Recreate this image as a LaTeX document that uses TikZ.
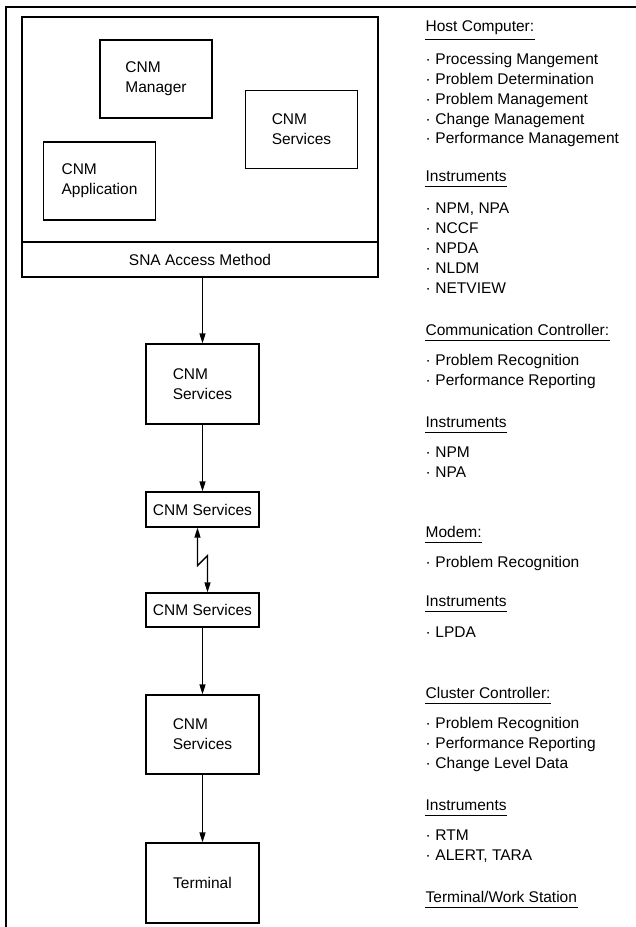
\documentclass[tikz,border=0pt]{standalone}
\usepackage{fontspec}
\setmainfont{Liberation Sans}
\usetikzlibrary{arrows.meta}

\begin{document}
\begin{tikzpicture}[x=1pt,y=-1pt,
  line width=1.3pt,
  every node/.style={font=\fontsize{15.5}{20}\selectfont},
  box/.style={draw, minimum width=113pt, align=left, inner sep=0pt},
  inbox/.style={draw, minimum width=112pt, minimum height=78pt, align=left, inner sep=0pt},
  arr/.style={-{Triangle[length=10pt,width=6pt]}},
  zap/.style={{Triangle[length=10pt,width=6pt]}-{Triangle[length=10pt,width=6pt]}},
  rtext/.style={anchor=base west, inner sep=0pt},
  heading/.style={rtext},
]
\useasboundingbox (0,0) rectangle (636,927);

% frame: top rule and left rule
\coordinate (fl) at (6,7);
\coordinate (fr) at (636,7);
\coordinate (fb) at (6,927);
\draw (fr) -- (fl) -- (fb);

% host computer
\node[draw, minimum width=356pt, minimum height=225pt, inner sep=0pt] (host) at (200,129.5) {};
\node[draw, minimum width=356pt, minimum height=35pt, inner sep=0pt] (sna) at (200,259.5) {SNA Access Method};
\node[inbox] (mgr) at (156,79) {CNM\\Manager};
\node[inbox] (hsvc) at (301.5,129.5) {CNM\\Services};
\node[inbox] (app) at (99.5,181) {CNM\\Application};

% chain of CNM services down to the terminal
\node[box, minimum height=80pt] (s1) at (202.5,384) {CNM\\Services};
\node[box, minimum height=35pt, align=center] (s2) at (202.5,509.5) {CNM Services};
\node[box, minimum height=34pt, align=center] (s3) at (202.5,610) {CNM Services};
\node[box, minimum height=79pt] (s4) at (202.5,734.5) {CNM\\Services};
\node[box, minimum height=80pt] (term) at (202.5,883) {Terminal};

\draw[arr] (sna.south -| s1.north) -- (s1.north);
\draw[arr] (s1) -- (s2);
\draw[zap] ([xshift=-5pt]s2.south) -- ++(0,38) -- ++(10,-10) -- ([xshift=5pt]s3.north);
\draw[arr] (s3) -- (s4);
\draw[arr] (s4) -- (term);

% functions and instruments
\newcommand{\heading}[3]{%
  \node[heading] (#1) at (425,#2) {#3};
  \draw[line width=0.9pt] ([yshift=-5pt]#1.south west) -- ([yshift=-5pt]#1.south east);}
\newcommand{\entry}[3]{\node[rtext] (#1) at (425,#2) {·\hspace{0.3em}#3};}

\heading{hc}{31}{Host Computer:}
\entry{hc1}{64}{Processing Mangement}
\entry{hc2}{84}{Problem Determination}
\entry{hc3}{104}{Problem Management}
\entry{hc4}{124}{Change Management}
\entry{hc5}{143}{Performance Management}

\heading{hi}{181}{Instruments}
\entry{hi1}{213}{NPM, NPA}
\entry{hi2}{233}{NCCF}
\entry{hi3}{253}{NPDA}
\entry{hi4}{273}{NLDM}
\entry{hi5}{293}{NETVIEW}

\heading{cc}{335}{Communication Controller:}
\entry{cc1}{365}{Problem Recognition}
\entry{cc2}{385}{Performance Reporting}

\heading{ci}{427}{Instruments}
\entry{ci1}{457}{NPM}
\entry{ci2}{477}{NPA}

\heading{mo}{537}{Modem:}
\entry{mo1}{567}{Problem Recognition}

\heading{mi}{606}{Instruments}
\entry{mi1}{637}{LPDA}

\heading{cl}{698}{Cluster Controller:}
\entry{cl1}{728}{Problem Recognition}
\entry{cl2}{748}{Performance Reporting}
\entry{cl3}{768}{Change Level Data}

\heading{ki}{810}{Instruments}
\entry{ki1}{840}{RTM}
\entry{ki2}{860}{ALERT, TARA}

\heading{tw}{902}{Terminal/Work Station}
\end{tikzpicture}
\end{document}
